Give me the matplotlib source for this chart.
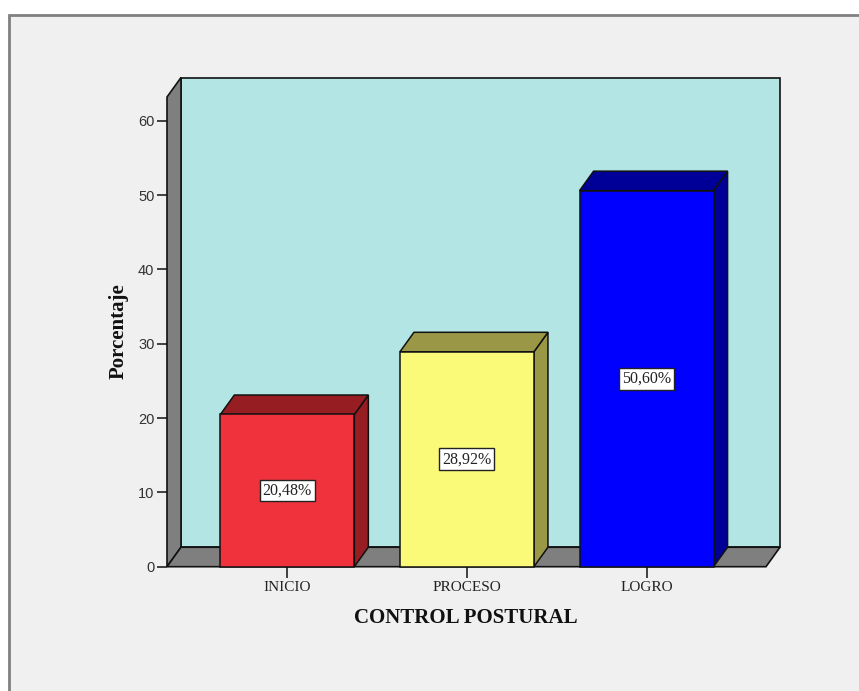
import matplotlib
matplotlib.use("Agg")
import matplotlib.pyplot as plt
from matplotlib.patches import Polygon, Rectangle

# Data
categories = ["INICIO", "PROCESO", "LOGRO"]
percentages = [20.48, 28.92, 50.60]
value_labels = ["20,48%", "28,92%", "50,60%"]
y_ticks = [0, 10, 20, 30, 40, 50, 60]

# Styling
front_colors = ["#f0323c", "#fafa78", "#0000ff"]
shade_colors = ["#961e23", "#9a9846", "#000099"]
wall_color = "#b3e5e5"
gray_wall = "#7f7f7f"
edge = "#111111"
serif = ["Liberation Serif", "DejaVu Serif"]
sans = ["Liberation Sans", "DejaVu Sans"]

W, H = 859, 691
fig = plt.figure(figsize=(W / 100, H / 100), dpi=100)
fig.patch.set_facecolor("white")

# Outer panel frame
fig.patches.append(Rectangle((9 / W, -0.05), 1.05, 1 - 15 / H + 0.05,
                             transform=fig.transFigure, facecolor="#f0f0f0",
                             edgecolor="#808080", linewidth=2, zorder=-5))

ax = fig.add_axes([167 / W, 1 - 566.7 / H, 599 / W, (566.7 - 97) / H])
ax.set_zorder(1)
ax.set_facecolor("none")
x0, x1 = -0.67, 2.665
ymax = 63.2
ax.set_xlim(x0, x1)
ax.set_ylim(0, ymax)
for s in ax.spines.values():
    s.set_visible(False)

# 3D depth offset (data units)
dx, dy = 0.078, 2.62
bar_w = 0.746

# Back wall, side wall, floor
ax.add_patch(Rectangle((x0 + dx, dy), x1 - x0, ymax, facecolor=wall_color,
                       edgecolor=edge, linewidth=1.2, clip_on=False, zorder=1))
ax.add_patch(Polygon([(x0, 0), (x0, ymax), (x0 + dx, ymax + dy), (x0 + dx, dy)],
                     closed=True, facecolor=gray_wall, edgecolor=edge,
                     linewidth=1.2, clip_on=False, zorder=2))
ax.add_patch(Polygon([(x0, 0), (x1, 0), (x1 + dx, dy), (x0 + dx, dy)],
                     closed=True, facecolor=gray_wall, edgecolor=edge,
                     linewidth=1.2, clip_on=False, zorder=2))

# Bars
for i, (v, fc, sc, lab) in enumerate(zip(percentages, front_colors, shade_colors, value_labels)):
    l, r = i - bar_w / 2, i + bar_w / 2
    ax.add_patch(Polygon([(r, 0), (r + dx, dy), (r + dx, v + dy), (r, v)], closed=True,
                         facecolor=sc, edgecolor=edge, linewidth=1.1, clip_on=False, zorder=3))
    ax.add_patch(Polygon([(l, v), (r, v), (r + dx, v + dy), (l + dx, v + dy)], closed=True,
                         facecolor=sc, edgecolor=edge, linewidth=1.1, clip_on=False, zorder=3))
    ax.add_patch(Rectangle((l, 0), bar_w, v, facecolor=fc, edgecolor=edge,
                           linewidth=1.1, clip_on=False, zorder=4))
    ax.text(i, v / 2, lab, ha="center", va="center", fontsize=11.5, family=serif,
            color="#222222", zorder=5,
            bbox=dict(boxstyle="square,pad=0.18", facecolor="white",
                      edgecolor="#222222", linewidth=1))

# Axes ticks and labels
ax.set_yticks(y_ticks)
ax.set_yticklabels([str(t) for t in y_ticks], family=sans, fontsize=10.5, color="#333333")
ax.set_xticks(range(len(categories)))
ax.set_xticklabels(categories, family=serif, fontsize=11, color="#222222")
ax.tick_params(axis="y", length=7, width=1.3, color="#333333", pad=2)
ax.tick_params(axis="x", length=8, width=1.3, color="#333333", pad=2)

fig.text(466 / W, 1 - 618 / H, "CONTROL POSTURAL", ha="center", va="center",
         fontsize=15, fontweight="bold", family=serif, color="#111111")
fig.text(118.5 / W, 1 - 331 / H, "Porcentaje", ha="center", va="center", rotation=90,
         fontsize=15, fontweight="bold", family=serif, color="#111111")

fig.savefig("out.png", dpi=100)
